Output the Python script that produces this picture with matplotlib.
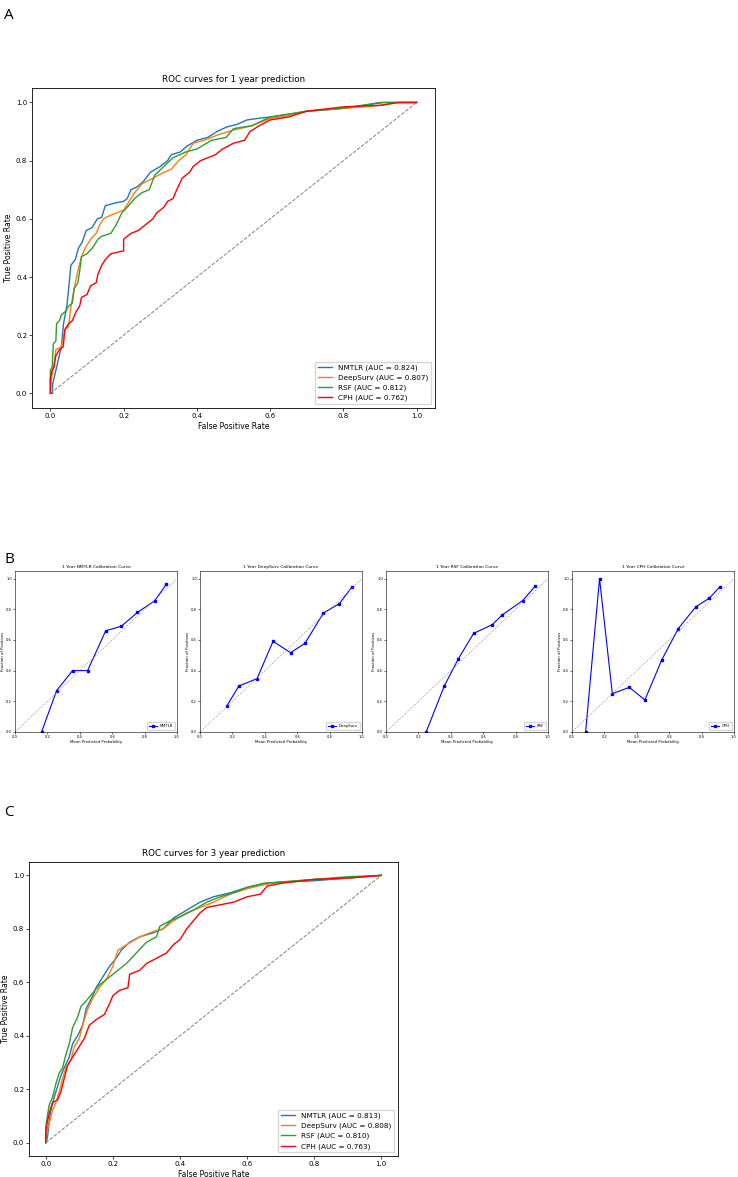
import matplotlib
matplotlib.use("Agg")
import matplotlib.pyplot as plt

# ROC curves, 1 year (fpr, tpr)
nmtlr1_fpr = [0, 0.006, 0.006, 0.03, 0.036, 0.045, 0.05, 0.056, 0.068, 0.077, 0.087, 0.098, 0.114, 0.128, 0.14, 0.15, 0.178, 0.2, 0.21, 0.22, 0.237, 0.255, 0.273, 0.3, 0.32, 0.33, 0.355, 0.373, 0.4, 0.43, 0.455, 0.48, 0.51, 0.537, 0.565, 0.6, 0.656, 0.7, 0.756, 0.8, 0.856, 0.91, 1.0]
nmtlr1_tpr = [0, 0.0, 0.03, 0.16, 0.24, 0.30, 0.36, 0.44, 0.46, 0.50, 0.52, 0.56, 0.57, 0.60, 0.605, 0.645, 0.655, 0.66, 0.67, 0.70, 0.71, 0.73, 0.76, 0.78, 0.80, 0.82, 0.83, 0.85, 0.87, 0.88, 0.90, 0.915, 0.925, 0.94, 0.945, 0.95, 0.96, 0.97, 0.975, 0.98, 0.99, 1.0, 1.0]
deep1_fpr = [0, 0.003, 0.01, 0.015, 0.03, 0.04, 0.05, 0.055, 0.065, 0.075, 0.085, 0.095, 0.11, 0.125, 0.135, 0.145, 0.16, 0.18, 0.2, 0.215, 0.23, 0.25, 0.28, 0.31, 0.33, 0.35, 0.37, 0.39, 0.42, 0.46, 0.5, 0.55, 0.6, 0.65, 0.7, 0.8, 0.9, 0.95, 1.0]
deep1_tpr = [0, 0.05, 0.1, 0.15, 0.16, 0.22, 0.23, 0.29, 0.36, 0.42, 0.47, 0.50, 0.53, 0.55, 0.58, 0.60, 0.61, 0.62, 0.63, 0.66, 0.69, 0.72, 0.74, 0.76, 0.77, 0.80, 0.82, 0.86, 0.87, 0.89, 0.905, 0.92, 0.945, 0.955, 0.97, 0.98, 0.99, 1.0, 1.0]
rsf1_fpr = [0, 0.0, 0.005, 0.008, 0.015, 0.017, 0.025, 0.03, 0.04, 0.05, 0.06, 0.065, 0.075, 0.08, 0.085, 0.1, 0.115, 0.13, 0.14, 0.165, 0.18, 0.195, 0.21, 0.23, 0.25, 0.27, 0.285, 0.31, 0.335, 0.37, 0.4, 0.44, 0.48, 0.5, 0.55, 0.6, 0.65, 0.7, 0.8, 0.85, 0.9, 1.0]
rsf1_tpr = [0, 0.08, 0.09, 0.17, 0.18, 0.24, 0.25, 0.27, 0.28, 0.30, 0.31, 0.36, 0.38, 0.42, 0.47, 0.48, 0.50, 0.53, 0.54, 0.55, 0.58, 0.62, 0.64, 0.67, 0.69, 0.70, 0.75, 0.78, 0.81, 0.83, 0.84, 0.87, 0.88, 0.91, 0.92, 0.95, 0.96, 0.97, 0.98, 0.99, 1.0, 1.0]
cph1_fpr = [0, 0.0, 0.005, 0.01, 0.015, 0.025, 0.035, 0.04, 0.05, 0.06, 0.07, 0.08, 0.085, 0.1, 0.11, 0.125, 0.13, 0.14, 0.15, 0.165, 0.2, 0.2, 0.22, 0.24, 0.26, 0.28, 0.29, 0.31, 0.32, 0.335, 0.345, 0.36, 0.38, 0.39, 0.41, 0.43, 0.45, 0.47, 0.5, 0.53, 0.545, 0.57, 0.6, 0.65, 0.7, 0.8, 0.9, 0.95, 1.0]
cph1_tpr = [0, 0.05, 0.08, 0.09, 0.13, 0.15, 0.16, 0.22, 0.24, 0.25, 0.28, 0.30, 0.33, 0.34, 0.37, 0.38, 0.41, 0.44, 0.46, 0.48, 0.49, 0.53, 0.55, 0.56, 0.58, 0.60, 0.62, 0.64, 0.66, 0.67, 0.70, 0.74, 0.76, 0.78, 0.80, 0.81, 0.82, 0.84, 0.86, 0.87, 0.90, 0.92, 0.94, 0.95, 0.97, 0.985, 0.99, 1.0, 1.0]

# ROC curves, 3 year
nmtlr3_fpr = [0, 0.005, 0.01, 0.015, 0.025, 0.035, 0.045, 0.055, 0.07, 0.08, 0.095, 0.11, 0.12, 0.14, 0.15, 0.17, 0.19, 0.21, 0.225, 0.25, 0.28, 0.32, 0.35, 0.38, 0.42, 0.46, 0.5, 0.55, 0.6, 0.65, 0.7, 0.8, 0.9, 1.0]
nmtlr3_tpr = [0, 0.02, 0.08, 0.12, 0.17, 0.21, 0.25, 0.28, 0.32, 0.37, 0.40, 0.44, 0.50, 0.55, 0.58, 0.62, 0.66, 0.69, 0.72, 0.75, 0.77, 0.785, 0.80, 0.84, 0.87, 0.90, 0.92, 0.935, 0.955, 0.97, 0.975, 0.98, 0.99, 1.0]
deep3_fpr = [0, 0.005, 0.01, 0.02, 0.03, 0.04, 0.05, 0.06, 0.075, 0.085, 0.1, 0.11, 0.125, 0.14, 0.16, 0.18, 0.2, 0.215, 0.24, 0.28, 0.32, 0.35, 0.38, 0.42, 0.46, 0.5, 0.55, 0.6, 0.65, 0.7, 0.8, 0.9, 1.0]
deep3_tpr = [0, 0.05, 0.07, 0.12, 0.15, 0.19, 0.24, 0.28, 0.31, 0.36, 0.39, 0.44, 0.50, 0.54, 0.58, 0.61, 0.66, 0.72, 0.74, 0.77, 0.79, 0.80, 0.83, 0.86, 0.88, 0.90, 0.93, 0.95, 0.965, 0.975, 0.985, 0.99, 1.0]
rsf3_fpr = [0, 0.0, 0.005, 0.01, 0.02, 0.03, 0.04, 0.05, 0.06, 0.07, 0.08, 0.095, 0.105, 0.12, 0.14, 0.16, 0.19, 0.21, 0.24, 0.27, 0.3, 0.33, 0.34, 0.37, 0.4, 0.44, 0.48, 0.52, 0.56, 0.6, 0.65, 0.7, 0.8, 0.9, 1.0]
rsf3_tpr = [0, 0.06, 0.1, 0.14, 0.17, 0.22, 0.26, 0.28, 0.33, 0.37, 0.43, 0.47, 0.51, 0.53, 0.56, 0.59, 0.62, 0.64, 0.67, 0.71, 0.75, 0.77, 0.81, 0.83, 0.845, 0.87, 0.90, 0.92, 0.935, 0.955, 0.97, 0.975, 0.985, 0.995, 1.0]
cph3_fpr = [0, 0.0, 0.005, 0.01, 0.02, 0.035, 0.045, 0.055, 0.065, 0.08, 0.1, 0.115, 0.13, 0.15, 0.175, 0.19, 0.2, 0.22, 0.245, 0.25, 0.28, 0.3, 0.33, 0.36, 0.38, 0.4, 0.42, 0.44, 0.46, 0.48, 0.52, 0.56, 0.6, 0.64, 0.66, 0.7, 0.8, 0.9, 1.0]
cph3_tpr = [0, 0.04, 0.08, 0.11, 0.15, 0.16, 0.19, 0.24, 0.29, 0.32, 0.36, 0.39, 0.44, 0.46, 0.48, 0.52, 0.55, 0.57, 0.58, 0.63, 0.645, 0.67, 0.69, 0.71, 0.74, 0.76, 0.80, 0.83, 0.86, 0.88, 0.89, 0.90, 0.92, 0.93, 0.96, 0.97, 0.985, 0.99, 1.0]

models = ["NMTLR", "DeepSurv", "RSF", "CPH"]
auc1 = [0.824, 0.807, 0.812, 0.762]
auc3 = [0.813, 0.808, 0.810, 0.763]
colors = ["#1f77b4", "#ff7f0e", "#2ca02c", "red"]

# calibration curves, 1 year
cal_nmtlr_x = [0.164, 0.257, 0.355, 0.448, 0.56, 0.657, 0.756, 0.862, 0.934]
cal_nmtlr_y = [0.0, 0.27, 0.40, 0.40, 0.66, 0.69, 0.78, 0.855, 0.963]
cal_deep_x = [0.164, 0.24, 0.352, 0.451, 0.559, 0.648, 0.762, 0.861, 0.94]
cal_deep_y = [0.167, 0.30, 0.348, 0.591, 0.517, 0.578, 0.776, 0.837, 0.948]
cal_rsf_x = [0.248, 0.359, 0.447, 0.541, 0.656, 0.717, 0.844, 0.922]
cal_rsf_y = [0.0, 0.298, 0.478, 0.643, 0.70, 0.763, 0.857, 0.952]
cal_cph_x = [0.084, 0.170, 0.249, 0.354, 0.45, 0.554, 0.656, 0.765, 0.847, 0.914]
cal_cph_y = [0.0, 1.0, 0.25, 0.291, 0.209, 0.47, 0.674, 0.817, 0.872, 0.948]

fig = plt.figure(figsize=(7.38, 11.77), dpi=100)


def roc_panel(rect, title, curves, aucs):
    ax = fig.add_axes(rect)
    for (fx, ty), name, auc, c in zip(curves, models, aucs, colors):
        ax.plot(fx, ty, color=c, lw=1.0, label=f"{name} (AUC = {auc:.3f})")
    ax.plot([0, 1], [0, 1], color="gray", ls="--", lw=0.7)
    ax.set_title(title, fontsize=6.3, pad=4)
    ax.set_xlabel("False Positive Rate", fontsize=5.5, labelpad=2)
    ax.set_ylabel("True Positive Rate", fontsize=5.5, labelpad=2)
    ax.tick_params(labelsize=5, length=2, width=0.5, pad=1.5)
    for s in ax.spines.values():
        s.set_linewidth(0.6)
    ax.legend(loc="lower right", fontsize=5.2, handlelength=2, framealpha=0.8)
    return ax


roc_panel([0.0434, 0.6534, 0.546, 0.2719], "ROC curves for 1 year prediction",
          [(nmtlr1_fpr, nmtlr1_tpr), (deep1_fpr, deep1_tpr), (rsf1_fpr, rsf1_tpr), (cph1_fpr, cph1_tpr)], auc1)
roc_panel([0.0393, 0.0178, 0.500, 0.2498], "ROC curves for 3 year prediction",
          [(nmtlr3_fpr, nmtlr3_tpr), (deep3_fpr, deep3_tpr), (rsf3_fpr, rsf3_tpr), (cph3_fpr, cph3_tpr)], auc3)

cal = [(cal_nmtlr_x, cal_nmtlr_y), (cal_deep_x, cal_deep_y), (cal_rsf_x, cal_rsf_y), (cal_cph_x, cal_cph_y)]
lefts = [15, 200, 386, 572]
for left, (cx, cy), name in zip(lefts, cal, models):
    ax = fig.add_axes([left / 738, 0.3781, 0.2195, 0.1368])
    ax.plot(cx, cy, color="blue", marker="s", ms=1.6, lw=0.8, label=name)
    ax.plot([0, 1], [0, 1], color="gray", ls=":", lw=0.6)
    ax.set_xlim(0, 1)
    ax.set_ylim(0, 1.05)
    ax.set_xticks([0, 0.2, 0.4, 0.6, 0.8, 1.0])
    ax.set_yticks([0, 0.2, 0.4, 0.6, 0.8, 1.0])
    ax.set_title(f"1 Year {name} Calibration Curve", fontsize=3.2, pad=2)
    ax.set_xlabel("Mean Predicted Probability", fontsize=2.8, labelpad=1)
    ax.set_ylabel("Fraction of Positives", fontsize=2.8, labelpad=1)
    ax.tick_params(labelsize=2.6, length=1.2, width=0.4, pad=1)
    for s in ax.spines.values():
        s.set_linewidth(0.4)
    ax.legend(loc="lower right", fontsize=2.8, handlelength=2, borderpad=0.5)

for lab, y in [("A", 0.993), ("B", 0.531), ("C", 0.316)]:
    fig.text(0.006, y, lab, fontsize=11, family="Open Sans", va="top", ha="left")

fig.savefig("out.png", dpi=100)
